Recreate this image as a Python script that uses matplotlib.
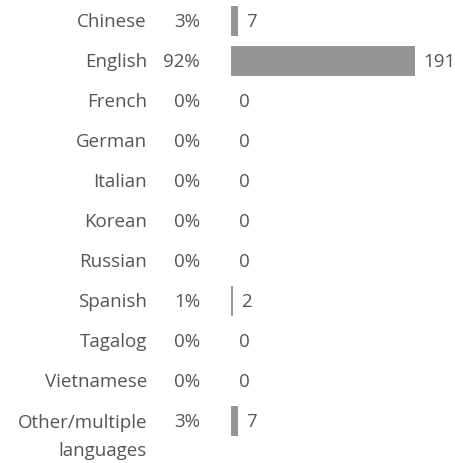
import matplotlib
matplotlib.use("Agg")
import matplotlib.pyplot as plt

# language counts and their share of responses
languages = ["Chinese", "English", "French", "German", "Italian", "Korean",
             "Russian", "Spanish", "Tagalog", "Vietnamese",
             "Other/multiple\nlanguages"]
counts = [7, 191, 0, 0, 0, 0, 0, 2, 0, 0, 7]
shares = ["3%", "92%", "0%", "0%", "0%", "0%", "0%", "1%", "0%", "0%", "3%"]

BAR = "#959595"
TEXT = "#555555"
FONT = "Open Sans"
SIZE = 13.5

W, H = 455, 464
fig = plt.figure(figsize=(W / 100, H / 100), dpi=100)
# axes placed in pixels: bars start at x=231, the longest ends at x=415
left, right = 231, 415
top, bottom = 1.7, 441.7
ax = fig.add_axes([left / W, 1 - bottom / H, (right - left) / W, (bottom - top) / H])
ax.set_xlim(0, max(counts))
ax.set_ylim(len(languages) - 0.5, -0.5)
ax.axis("off")

ypos = list(range(len(languages)))
ax.barh(ypos, counts, height=0.75, color=BAR, linewidth=0)

for y, lang, n, pct in zip(ypos, languages, counts, shares):
    # multi-line labels keep their first line on the row
    dy = -15 if "\n" in lang else 0
    ax.annotate(lang, xy=(0, y), xytext=(-84, dy), textcoords="offset pixels",
                ha="right", va="center", fontsize=SIZE, color=TEXT,
                family=FONT, linespacing=1.7, multialignment="right",
                annotation_clip=False)
    ax.annotate(pct, xy=(0, y), xytext=(-31, 0), textcoords="offset pixels",
                ha="right", va="center", fontsize=SIZE, color=TEXT,
                family=FONT, annotation_clip=False)
    ax.annotate(str(n), xy=(n, y), xytext=(8, 0), textcoords="offset pixels",
                ha="left", va="center", fontsize=SIZE, color=TEXT,
                family=FONT, annotation_clip=False)

fig.savefig("out.png", dpi=100)
